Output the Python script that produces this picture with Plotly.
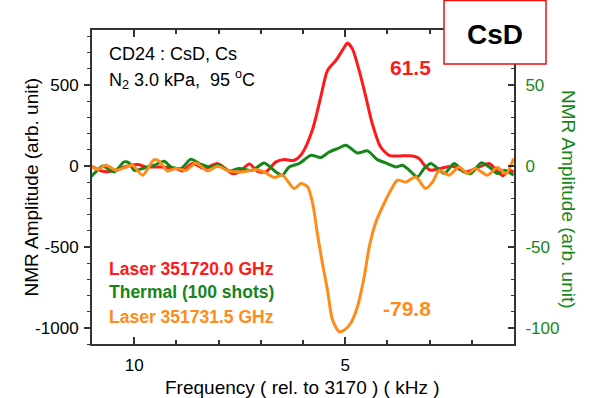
import plotly.graph_objects as go

# ---------------- data ----------------
red_f = [11.05, 10.75, 10.43, 10.24, 9.92, 9.72, 9.37, 9.01, 8.86, 8.62, 8.34, 8.03,
         7.67, 7.51, 7.27, 7.08, 6.88, 6.64, 6.45, 6.21, 6.02, 5.78, 5.58, 5.42, 5.22,
         5.02, 4.95, 4.83, 4.67, 4.51, 4.36, 4.16, 3.96, 3.72, 3.40, 3.25, 3.09, 2.97,
         2.77, 2.46, 2.14, 1.82, 1.59, 1.27, 1.11, 1.01]
red_v = [5, -33, -27, -6, 9, -6, -6, -16, -31, 15, -16, 15,
         -47, -37, 12, -33, -37, 25, 40, 35, 78, 220, 426, 590, 652,
         734, 759, 724, 590, 426, 262, 117, 66, 62, 62, 47, -6, -27,
         -16, -2, -37, -6, 15, -60, -27, -37]

green_f = [11.07, 10.91, 10.75, 10.63, 10.47, 10.24, 10.12, 10.0, 9.80, 9.53, 9.29, 9.13,
           8.89, 8.66, 8.46, 8.22, 7.99, 7.75, 7.51, 7.20, 6.92, 6.64, 6.49, 6.33, 6.09,
           5.81, 5.58, 5.38, 5.18, 4.98, 4.71, 4.47, 4.24, 4.00, 3.80, 3.64, 3.48, 3.29,
           3.13, 2.97, 2.85, 2.65, 2.42, 2.18, 2.02, 1.78, 1.59, 1.39, 1.23, 1.01]
green_v = [-7.8, -3.7, 0.0, -1.6, -3.7, 2.5, 1.9, -2.7, -1.6, 0.4, 2.9, -0.6,
           -1.6, 4.1, 1.5, -0.6, 0.4, -3.1, -1.6, -2.7, 1.9, -3.7, -5.7, -0.6, 1.5,
           6.6, 5.2, 8.6, 10.7, 12.8, 8.0, 9.3, 3.9, 1.5, -0.6, 0.4, -2.7, -6.8,
           -1.6, 1.5, -0.6, -4.7, 1.5, -3.7, -4.7, 1.9, -0.6, -4.7, -2.7, -5.7]

orange_f = [11.07, 10.87, 10.67, 10.43, 10.24, 10.04, 9.80, 9.53, 9.41, 9.21, 9.01, 8.77,
            8.54, 8.26, 8.03, 7.75, 7.43, 7.12, 6.92, 6.68, 6.49, 6.21, 6.05, 5.89, 5.77,
            5.66, 5.54, 5.42, 5.30, 5.14, 5.02, 4.87, 4.71, 4.55, 4.43, 4.27, 4.08, 3.92,
            3.76, 3.56, 3.33, 3.09, 2.93, 2.77, 2.54, 2.30, 2.10, 1.91, 1.63, 1.39, 1.19, 1.01]
orange_v = [10, -22, 4, -27, -12, 4, -57, 39, 31, -31, -16, -27,
            19, -31, -2, -31, -37, -22, -37, -72, -57, -140, -109, -130, -232,
            -417, -602, -767, -952, -1024, -1014, -972, -870, -685, -500, -345, -232, -150,
            -88, -99, -68, -140, -99, -27, -57, -6, -47, -16, -57, -10, -47, 46]

x_ticks = [10, 5]
x_labels = ["10", "5"]
left_ticks = [500, 0, -500, -1000]
left_labels = ["500", "0", "-500", "-1000"]
right_ticks = [50, 0, -50, -100]
right_labels = ["50", "0", "-50", "-100"]

RED = "#FF1A1A"
GREEN = "#16861A"
ORANGE = "#FF8C1A"
AX = "#333333"
FONT = "Liberation Sans, Arial, sans-serif"

# plot-area geometry in pixels (for paper coordinates)
L, R, T, B = 92, 90, 30, 54
W, H = 604, 398
PW, PH = W - L - R, H - T - B


def px(x):
    return (x - L) / PW


def py(y):
    return (H - B - y) / PH


fig = go.Figure()
fig.add_trace(go.Scatter(x=red_f, y=red_v, mode="lines", yaxis="y",
                         line=dict(color=RED, width=3, shape="spline", smoothing=0.7),
                         showlegend=False))
fig.add_trace(go.Scatter(x=green_f, y=green_v, mode="lines", yaxis="y2",
                         line=dict(color=GREEN, width=3, shape="spline", smoothing=0.7),
                         showlegend=False))
fig.add_trace(go.Scatter(x=orange_f, y=orange_v, mode="lines", yaxis="y3",
                         line=dict(color=ORANGE, width=3, shape="spline", smoothing=0.7),
                         showlegend=False))

yrange = [-1100, 840]
fig.update_layout(
    width=W, height=H,
    margin=dict(l=L, r=R, t=T, b=B, autoexpand=False),
    paper_bgcolor="white", plot_bgcolor="white",
    font=dict(family=FONT, color="black"),
    xaxis=dict(range=[11, 1], tickmode="array", tickvals=x_ticks, ticktext=x_labels,
               ticks="inside", ticklen=7, tickwidth=1.5, tickcolor=AX,
               showline=True, linecolor=AX, linewidth=2, mirror="ticks",
               showgrid=False, zeroline=False, ticklabelstandoff=5, automargin=False,
               tickfont=dict(size=17, color="black"),
               minor=dict(dtick=1, tick0=0, ticks="inside", ticklen=4, tickcolor=AX, tickwidth=1.5)),
    yaxis=dict(range=yrange, tickmode="array", tickvals=left_ticks, ticktext=left_labels,
               ticks="outside", ticklen=6, tickwidth=1.5, tickcolor=AX,
               showline=True, linecolor=AX, linewidth=2,
               showgrid=False, zeroline=False, automargin=False, ticklabelstandoff=2,
               tickfont=dict(size=17, color="black"),
               minor=dict(dtick=100, tick0=0, ticks="outside", ticklen=3, tickcolor=AX, tickwidth=1)),
    yaxis2=dict(range=[v / 10 for v in yrange], overlaying="y", side="right",
                tickmode="array", tickvals=right_ticks, ticktext=right_labels,
                ticks="inside", ticklen=6, tickwidth=1.5, tickcolor=AX,
                showline=True, linecolor=AX, linewidth=2,
                showgrid=False, zeroline=False, ticklabelstandoff=6, automargin=False,
                tickfont=dict(size=17, color=GREEN),
                minor=dict(dtick=10, tick0=0, ticks="inside", ticklen=3, tickcolor=AX, tickwidth=1)),
    yaxis3=dict(range=yrange, overlaying="y", visible=False),
)

ann = [
    dict(text="CD24 : CsD, Cs", x=px(107), y=py(54), size=18, color="black", xa="left"),
    dict(text="N<sub>2</sub> 3.0 kPa,  95 <sup>o</sup>C", x=px(107), y=py(80), size=18, color="black", xa="left"),
    dict(text="<b>61.5</b>", x=px(410), y=py(67), size=21, color=RED, xa="center"),
    dict(text="<b>-79.8</b>", x=px(407), y=py(308), size=21, color=ORANGE, xa="center"),
    dict(text="<b>Laser 351720.0 GHz</b>", x=px(107), y=py(269), size=17.5, color=RED, xa="left"),
    dict(text="<b>Thermal (100 shots)</b>", x=px(107), y=py(292), size=17.5, color=GREEN, xa="left"),
    dict(text="<b>Laser 351731.5 GHz</b>", x=px(107), y=py(317), size=17.5, color=ORANGE, xa="left"),
    dict(text="Frequency ( rel. to 3170 ) ( kHz )", x=px(302.5), y=py(387), size=19, color="black", xa="center"),
]
for a in ann:
    fig.add_annotation(text=a["text"], x=a["x"], y=a["y"], xref="paper", yref="paper",
                       xanchor=a["xa"], yanchor="middle", showarrow=False,
                       font=dict(size=a["size"], color=a["color"], family=FONT))

# rotated axis titles
fig.add_annotation(text="NMR Amplitude (arb. unit)", x=px(31), y=py(187.5), xref="paper", yref="paper",
                   xanchor="center", yanchor="middle", showarrow=False, textangle=-90,
                   font=dict(size=19, color="black", family=FONT))
fig.add_annotation(text="NMR Amplitude (arb. unit)", x=px(569), y=py(199), xref="paper", yref="paper",
                   xanchor="center", yanchor="middle", showarrow=False, textangle=90,
                   font=dict(size=19, color=GREEN, family=FONT))

# CsD label box
fig.add_shape(type="rect", xref="paper", yref="paper",
              x0=px(444), x1=px(546), y0=py(64), y1=py(0.5),
              line=dict(color="#EE1111", width=1.5), fillcolor="white", layer="above")
fig.add_annotation(text="<b>CsD</b>", x=px(495), y=py(34), xref="paper", yref="paper",
                   xanchor="center", yanchor="middle", showarrow=False,
                   font=dict(size=28, color="black", family=FONT))

fig.write_html("out.html")
